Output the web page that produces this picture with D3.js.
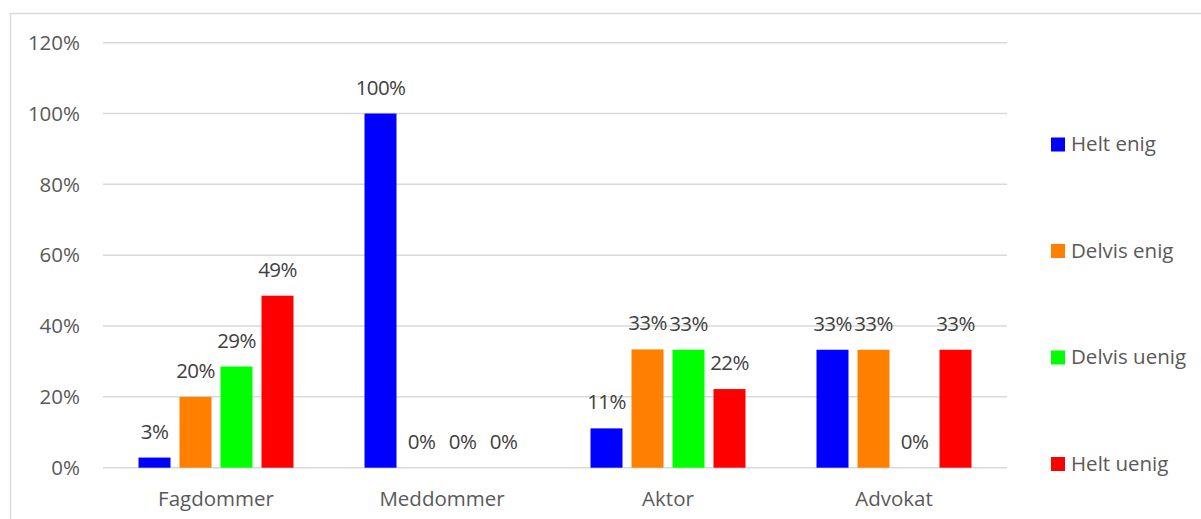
<!DOCTYPE html>
<html>
<head>
<meta charset="utf-8">
<script src="https://cdn.jsdelivr.net/npm/d3@7"></script>
<style>
  html, body { margin: 0; padding: 0; background: #fff; }
  svg { display: block; font-family: "Open Sans", "Noto Sans", sans-serif; }
</style>
</head>
<body>
<svg id="chart" width="1201" height="519"></svg>
<script>
const categories = ["Fagdommer", "Meddommer", "Aktor", "Advokat"];
const seriesNames = ["Helt enig", "Delvis enig", "Delvis uenig", "Helt uenig"];
const seriesColors = ["#0000ff", "#ff8000", "#00ff00", "#ff0000"];
const helt_enig    = [2.86, 100, 11.1, 33.3];
const delvis_enig  = [20.0, 0, 33.4, 33.3];
const delvis_uenig = [28.57, 0, 33.3, 0];
const helt_uenig   = [48.57, 0, 22.2, 33.3];
const yTicks = [0, 20, 40, 60, 80, 100, 120];

const seriesValues = [helt_enig, delvis_enig, delvis_uenig, helt_uenig];

const svg = d3.select("#chart");
const W = 1201, H = 519;
const plot = { left: 103, right: 1007, top: 42.7, bottom: 467.7 };
const FS = 20.5;

// outer border
svg.append("rect")
  .attr("x", 10.5).attr("y", 13.5)
  .attr("width", W + 10).attr("height", H + 10)
  .attr("fill", "none").attr("stroke", "#d9d9d9").attr("stroke-width", 1.5);

const y = d3.scaleLinear().domain([0, 120]).range([plot.bottom, plot.top]);
const x0 = d3.scaleBand().domain(categories).range([plot.left, plot.right]).paddingInner(0).paddingOuter(0);
const bw = x0.bandwidth();
const x1 = d3.scaleBand().domain(seriesNames)
  .range([bw / 2 - 77.5, bw / 2 + 77.5]).paddingInner(9 / 41).paddingOuter(0);

// gridlines
svg.append("g").selectAll("line").data(yTicks).join("line")
  .attr("x1", plot.left).attr("x2", plot.right)
  .attr("y1", d => y(d)).attr("y2", d => y(d))
  .attr("stroke", "#d9d9d9").attr("stroke-width", 1.5);

// y tick labels
svg.append("g").selectAll("text").data(yTicks).join("text")
  .attr("x", 80).attr("y", d => y(d))
  .attr("dy", "0.35em")
  .attr("text-anchor", "end")
  .attr("fill", "#595959")
  .attr("font-size", FS)
  .text(d => d + "%");

// bars
const rows = [];
categories.forEach((c, ci) => {
  seriesNames.forEach((s, si) => {
    rows.push({ cat: c, series: s, value: seriesValues[si][ci], color: seriesColors[si] });
  });
});

const g = svg.append("g");
g.selectAll("rect").data(rows).join("rect")
  .attr("x", d => x0(d.cat) + x1(d.series))
  .attr("width", x1.bandwidth())
  .attr("y", d => y(d.value))
  .attr("height", d => y(0) - y(d.value))
  .attr("fill", d => d.color);

g.selectAll("text").data(rows).join("text")
  .attr("x", d => x0(d.cat) + x1(d.series) + x1.bandwidth() / 2)
  .attr("y", d => y(d.value) - 19)
  .attr("text-anchor", "middle")
  .attr("fill", "#404040")
  .attr("font-size", FS)
  .attr("letter-spacing", -0.6)
  .text(d => Math.round(d.value) + "%");

// category labels
svg.append("g").selectAll("text").data(categories).join("text")
  .attr("x", d => x0(d) + bw / 2)
  .attr("y", 506)
  .attr("text-anchor", "middle")
  .attr("fill", "#595959")
  .attr("font-size", FS)
  .text(d => d);

// legend
const legendY = [137.5, 244, 350.5, 457];
const lg = svg.append("g").selectAll("g").data(seriesNames).join("g")
  .attr("transform", (d, i) => `translate(1051, ${legendY[i]})`);
lg.append("rect").attr("width", 14).attr("height", 14).attr("fill", (d, i) => seriesColors[i]);
lg.append("text").attr("x", 20).attr("y", 13.5)
  .attr("fill", "#595959").attr("font-size", FS).text(d => d);
</script>
</body>
</html>
